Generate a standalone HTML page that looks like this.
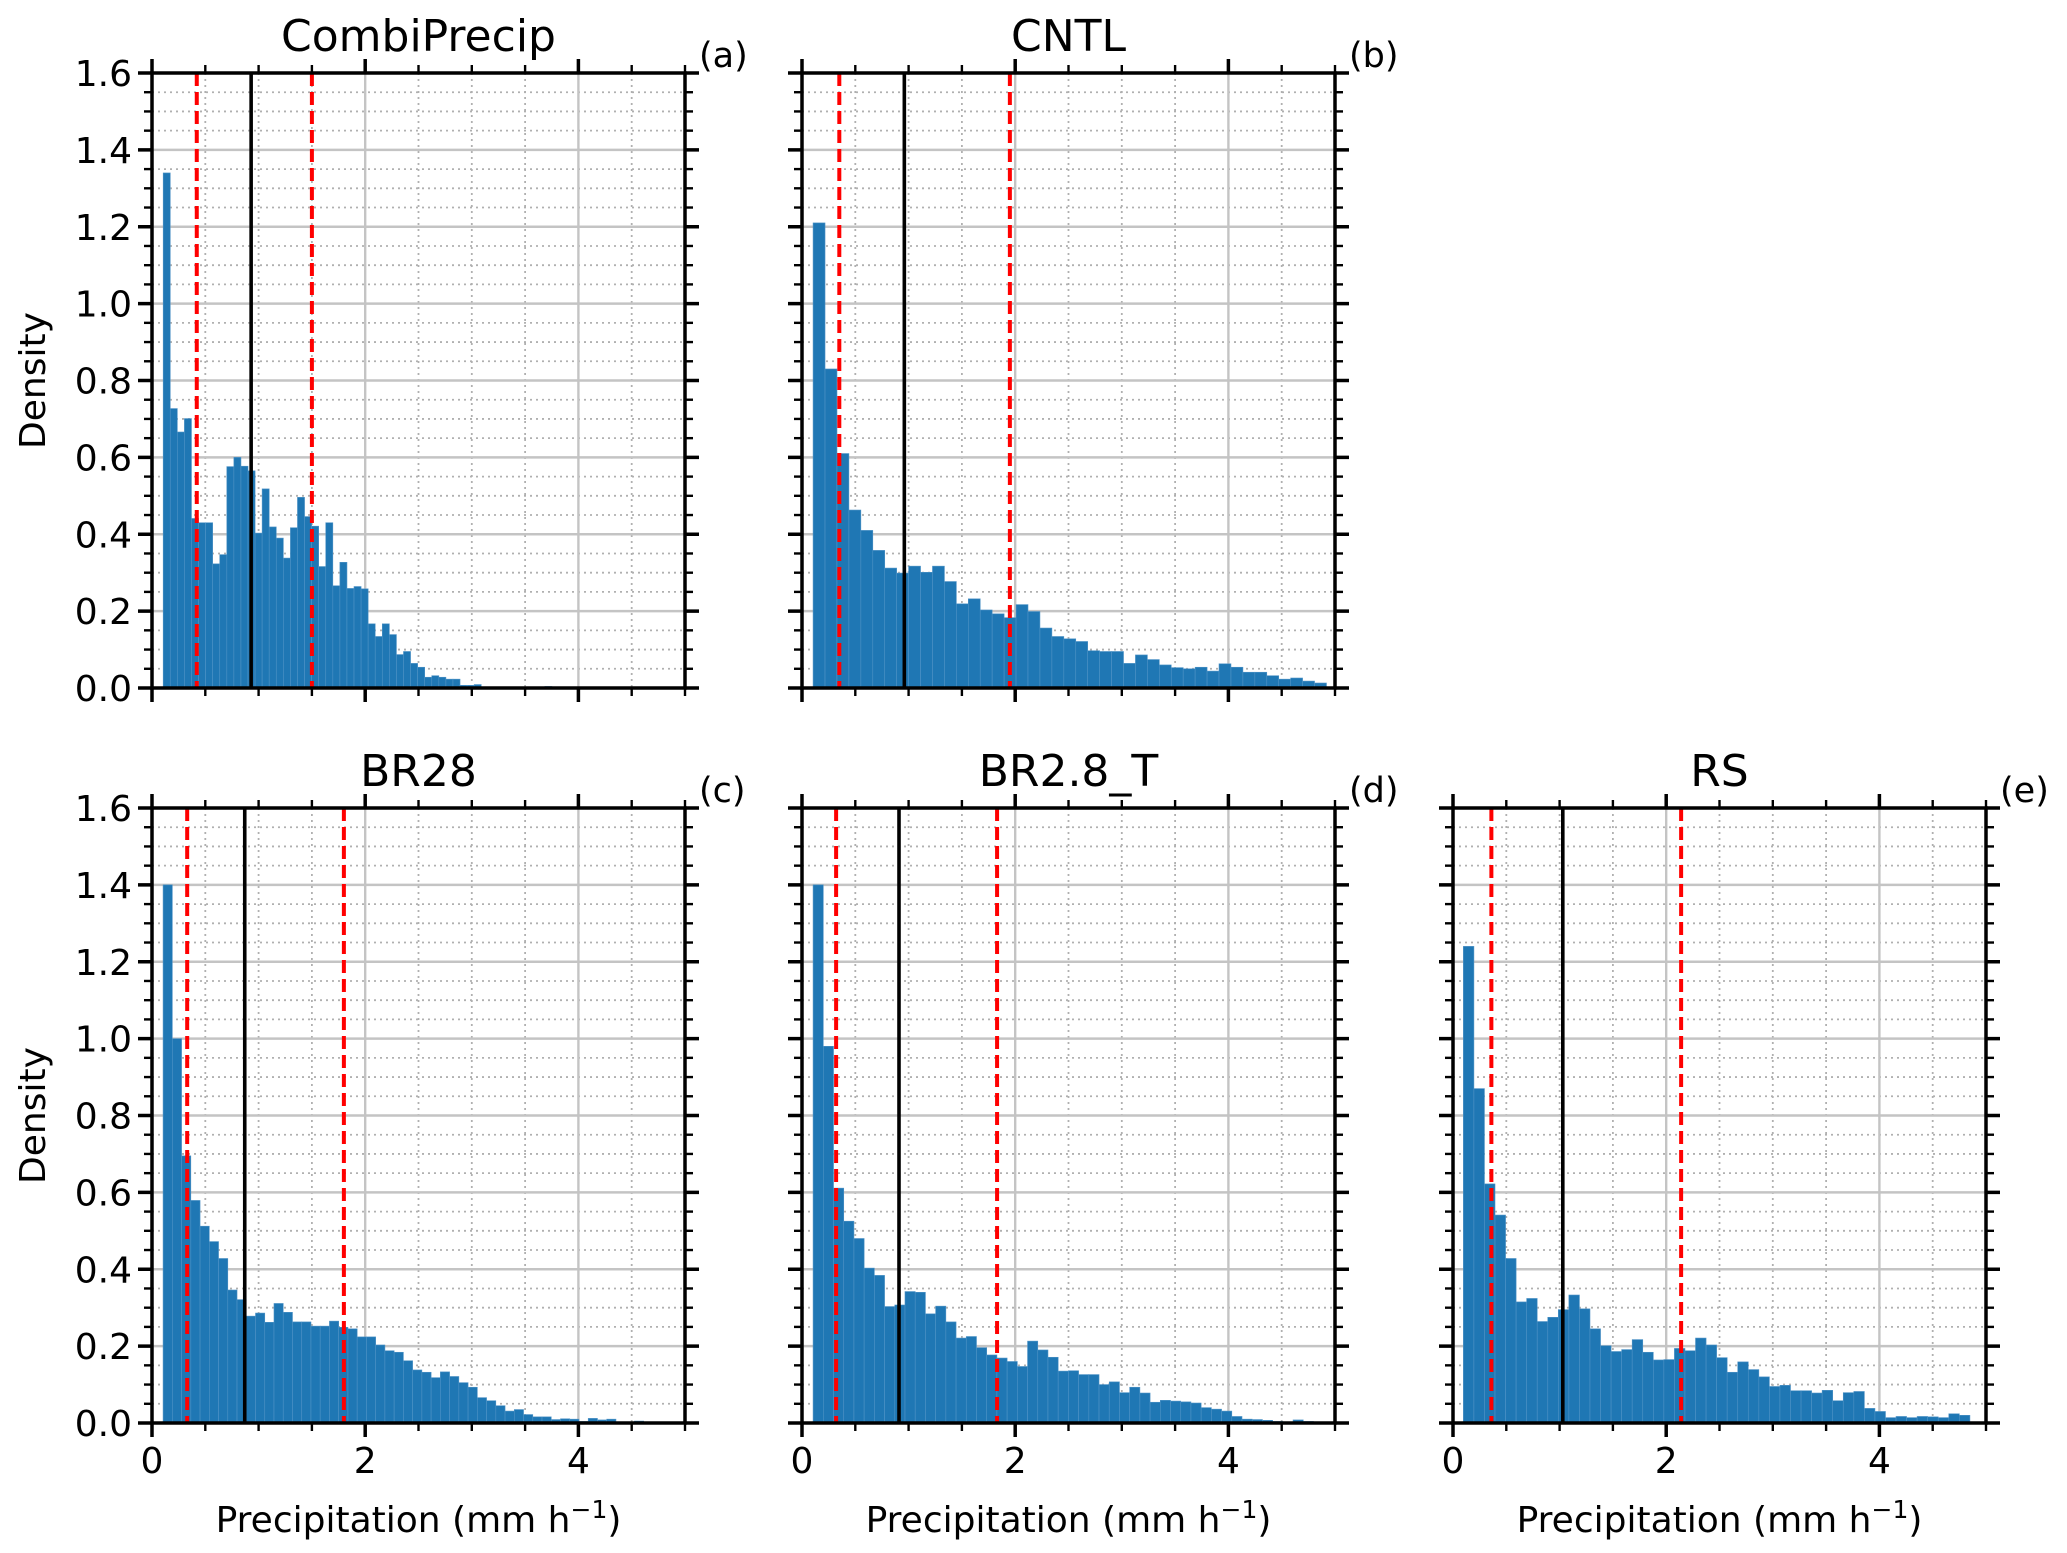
<!DOCTYPE html>
<html><head><meta charset="utf-8"><style>
html,body{margin:0;padding:0;background:#fff;}
svg{display:block;}
text{font-family:"DejaVu Sans","Liberation Sans",sans-serif;fill:#000;}
</style></head><body>
<svg id="fig" width="2067" height="1553" viewBox="0 0 2067 1553" xmlns="http://www.w3.org/2000/svg"></svg>
<script>
// ---- data ----
const panelTitles = ["CombiPrecip","CNTL","BR28","BR2.8_T","RS"];
const panelLetters = ["(a)","(b)","(c)","(d)","(e)"];
const binStart = [0.105, 0.104, 0.104, 0.104, 0.097];
const binWidth = [0.0663, 0.112, 0.0867, 0.0958, 0.099];
const densA = [1.34,0.727,0.666,0.701,0.441,0.430,0.430,0.323,0.347,0.576,0.600,0.577,0.565,0.403,0.518,0.419,0.390,0.338,0.417,0.496,0.446,0.421,0.316,0.430,0.266,0.327,0.259,0.264,0.258,0.167,0.134,0.167,0.139,0.087,0.095,0.064,0.054,0.028,0.032,0.028,0.023,0.023,0.007,0.007,0.009,0.002,0.001,0.001,0.001,0.001,0.001,0.001,0.001,0.001,0.004];
const densB = [1.21,0.83,0.610,0.463,0.410,0.358,0.312,0.299,0.317,0.301,0.317,0.277,0.219,0.232,0.203,0.193,0.183,0.217,0.199,0.156,0.134,0.128,0.121,0.097,0.095,0.095,0.064,0.086,0.074,0.060,0.053,0.050,0.054,0.044,0.063,0.054,0.041,0.041,0.032,0.023,0.026,0.018,0.013];
const densC = [1.40,1.00,0.695,0.579,0.512,0.472,0.428,0.346,0.321,0.278,0.286,0.262,0.311,0.288,0.263,0.263,0.252,0.252,0.265,0.249,0.245,0.224,0.224,0.203,0.188,0.184,0.162,0.138,0.132,0.118,0.133,0.121,0.105,0.093,0.066,0.058,0.045,0.031,0.035,0.022,0.016,0.016,0.009,0.011,0.010,0.004,0.012,0.008,0.010,0.002,0.002,0.005,0.002];
const densD = [1.40,0.98,0.611,0.525,0.480,0.403,0.384,0.303,0.307,0.342,0.340,0.284,0.304,0.263,0.221,0.225,0.196,0.177,0.169,0.160,0.147,0.213,0.190,0.171,0.135,0.136,0.126,0.126,0.100,0.107,0.079,0.093,0.078,0.054,0.059,0.057,0.055,0.052,0.040,0.036,0.031,0.017,0.010,0.009,0.007,0.004,0.002,0.008,0.004,0.001,0.001];
const densE = [1.24,0.87,0.622,0.541,0.428,0.315,0.324,0.264,0.275,0.295,0.333,0.297,0.245,0.201,0.186,0.191,0.217,0.184,0.164,0.165,0.194,0.188,0.221,0.203,0.170,0.132,0.159,0.139,0.120,0.095,0.098,0.084,0.084,0.078,0.085,0.058,0.079,0.082,0.038,0.030,0.014,0.017,0.014,0.017,0.016,0.014,0.024,0.020,0.002];
const redLow = [0.42, 0.35, 0.33, 0.32, 0.36];
const blackMid = [0.93, 0.96, 0.87, 0.91, 1.03];
const redHigh = [1.50, 1.95, 1.80, 1.83, 2.14];
const yTicks = ["0.0","0.2","0.4","0.6","0.8","1.0","1.2","1.4","1.6"];
const xTicks = ["0","2","4"];
// ---- layout ----
const dens = [densA, densB, densC, densD, densE];
const lefts = [152, 802, 152, 802, 1453];
const tops = [73, 73, 808, 808, 808];
const PW = 533, PH = 615, XMAX = 5, YMAX = 1.6;
const NS = "http://www.w3.org/2000/svg";
const svg = document.getElementById("fig");
function mk(tag, attrs, parent){const e=document.createElementNS(NS,tag);for(const k in attrs)e.setAttribute(k,attrs[k]);(parent||svg).appendChild(e);return e;}

for(let p=0;p<5;p++){
  const L=lefts[p], T=tops[p], B=T+PH;
  const xs=v=>L+v/XMAX*PW, ys=v=>B-v/YMAX*PH;
  const g=mk("g",{});
  
  
  for(let i=1;i<32;i++){ if(i%4===0) continue; const y=ys(i*0.05);
    const l=mk("line",{x1:L,x2:L+PW,y1:y,y2:y,stroke:"#b0b0b0","stroke-width":1.8,"stroke-dasharray":"2,4"},g);
      }
  for(let i=1;i<10;i++){ if(i%4===0) continue; const x=xs(i*0.5);
    const l=mk("line",{x1:x,x2:x,y1:T,y2:B,stroke:"#b0b0b0","stroke-width":1.8,"stroke-dasharray":"2,4"},g);
      }
  for(let i=1;i<8;i++){ const y=ys(i*0.2);
    const l=mk("line",{x1:L,x2:L+PW,y1:y,y2:y,stroke:"#c4c4c4","stroke-width":2.4},g);
      }
  [2,4].forEach(v=>{ const x=xs(v);
    const l=mk("line",{x1:x,x2:x,y1:T,y2:B,stroke:"#c4c4c4","stroke-width":2.4},g);
      });
  dens[p].forEach((d,i)=>{
    const x0=xs(binStart[p]+i*binWidth[p]), x1=xs(binStart[p]+(i+1)*binWidth[p]);
    const r=mk("rect",{x:x0,y:ys(d),width:Math.max(0.5,x1-x0),height:B-ys(d),fill:"#1f77b4",stroke:"#4f93c6","stroke-width":0.6},g);
     
  });
  [redLow[p],redHigh[p]].forEach(v=>{
    const l=mk("line",{x1:xs(v),x2:xs(v),y1:T,y2:B,stroke:"#ff0000","stroke-width":4,"stroke-dasharray":"13,6"},g);
     
  });
  const bl=mk("line",{x1:xs(blackMid[p]),x2:xs(blackMid[p]),y1:T,y2:B,stroke:"#000","stroke-width":3.6},g);
   
  const fr=mk("rect",{x:L,y:T,width:PW,height:PH,fill:"none",stroke:"#000","stroke-width":3.5},g);
   
  for(let i=0;i<=32;i++){ const y=ys(i*0.05), major=i%4===0, len=major?14:8, w=major?3.5:2.4;
    const t1=mk("line",{x1:L-len,x2:L,y1:y,y2:y,stroke:"#000","stroke-width":w},g);
     
    const t2=mk("line",{x1:L+PW,x2:L+PW+len,y1:y,y2:y,stroke:"#000","stroke-width":w},g);
      }
  for(let i=0;i<=10;i++){ const x=xs(i*0.5), major=i%4===0, len=major?14:8, w=major?3.5:2.4;
    const t1=mk("line",{x1:x,x2:x,y1:B,y2:B+len,stroke:"#000","stroke-width":w},g);
     
    const t2=mk("line",{x1:x,x2:x,y1:T-len,y2:T,stroke:"#000","stroke-width":w},g);
      }
  const tt=mk("text",{x:L+PW/2,y:T-22,"font-size":44,"text-anchor":"middle"},g); tt.textContent=panelTitles[p];
   
  const lt=mk("text",{x:L+PW+14,y:T-6,"font-size":35},g); lt.textContent=panelLetters[p];
   
  if(p===0||p===2){
    yTicks.forEach((s,i)=>{ const t=mk("text",{x:L-20,y:ys(i*0.2)+13,"font-size":36,"text-anchor":"end"},g); t.textContent=s;
        });
    const yl=mk("text",{x:0,y:0,"font-size":36,"text-anchor":"middle",transform:`translate(${L-107},${T+PH/2}) rotate(-90)`},g); yl.textContent="Density";
     
  }
  if(p>=2){
    xTicks.forEach(s=>{ const t=mk("text",{x:xs(+s),y:B+50,"font-size":36,"text-anchor":"middle"},g); t.textContent=s;
        });
    const xl=mk("text",{x:L+PW/2,y:B+109,"font-size":36,"text-anchor":"middle"},g);
    xl.innerHTML='Precipitation (mm h<tspan dy="-14" font-size="25">−1</tspan><tspan dy="14">)</tspan>';
     
  }
}
</script>
</body></html>
